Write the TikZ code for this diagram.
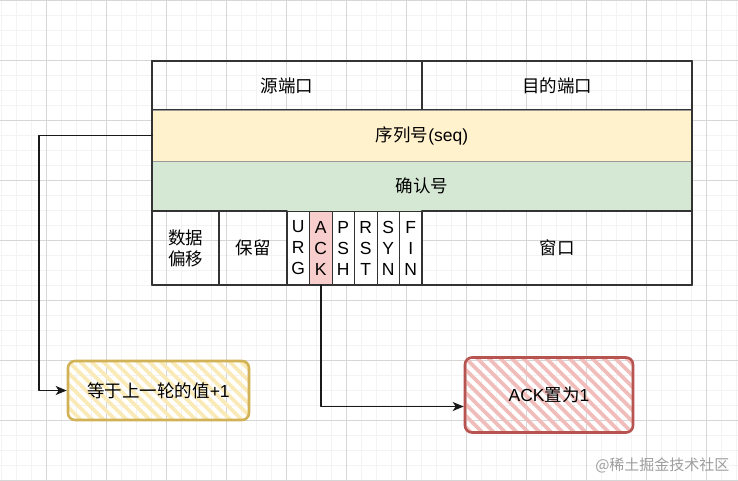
\documentclass[tikz,border=0pt]{standalone}
\usepackage{fontspec}
\setmainfont{Liberation Sans}
\newfontfamily\cjk{Noto Sans CJK SC}
\usetikzlibrary{arrows.meta}

\definecolor{gridminor}{RGB}{243,243,243}
\definecolor{gridmajor}{RGB}{214,214,214}
\definecolor{seqyellow}{HTML}{FFF2CC}
\definecolor{acknogreen}{HTML}{D5E8D4}
\definecolor{ackred}{HTML}{F8CECC}
\definecolor{hatchred}{HTML}{F0BDBB}
\definecolor{hatchyellow}{HTML}{FAEAB8}
\definecolor{rimred}{HTML}{B85450}
\definecolor{rimyellow}{HTML}{D2B256}
\definecolor{cellline}{HTML}{333333}

\tikzset{
  cell/.style={draw=cellline,line width=1.2pt,inner sep=0pt,outer sep=0pt,
    font=\fontsize{17.5}{21}\selectfont,align=center},
  band/.style={cell,draw=black!40,line width=0.8pt},
  flagcell/.style={cell,line width=1pt,minimum width=22.5pt,minimum height=74pt},
  sketchbox/.style={rounded corners=7pt,line width=2.6pt,inner sep=0pt,
    font=\fontsize{17.5}{21}\selectfont,
    path picture={\foreach \k in {-10,...,20}
      \draw[#1,line width=3.6pt] ([xshift=\k*11.5pt]path picture bounding box.north west) -- ++(100pt,-100pt);}},
  link/.style={draw=black!90,line width=1.6pt,-{Stealth[length=11pt,width=9pt,inset=3pt]}}
}

\begin{document}
\begin{tikzpicture}[x=1pt,y=-1pt,line cap=round,line join=round]
        \useasboundingbox (0,0) rectangle (738,480);
        \fill[white] (0,0) rectangle (738,480);
        \foreach \x in {1.7,16.7,...,737} {
            \draw[gridminor,line width=0.7pt] (\x,0) -- (\x,480);
        }
        \foreach \y in {15,30,...,479} {
            \draw[gridminor,line width=0.7pt] (0,\y) -- (738,\y);
        }
        \foreach \x in {46.7,106.7,...,737} {
            \draw[gridmajor,line width=0.7pt] (\x,0) -- (\x,480);
        }
        \foreach \y in {0,60,...,480} {
            \draw[gridmajor,line width=0.7pt] (0,\y) -- (738,\y);
        }

        \node[cell,minimum width=270pt,minimum height=49pt] (srcport) at (287,85.5) {\cjk 源端口};
        \node[cell,minimum width=270pt,minimum height=49pt] (dstport) at (557,85.5) {\cjk 目的端口};
        \node[band,fill=seqyellow,minimum width=540pt,minimum height=51pt] (seqno) at (422,135.5) {{\cjk 序列号}(seq)};
        \node[band,fill=acknogreen,minimum width=540pt,minimum height=50pt] (ackno) at (422,186) {\cjk 确认号};

        \node[cell,minimum width=67pt,minimum height=74pt] (offset) at (185.5,248) {{\cjk 数据}\\{\cjk 偏移}};
        \node[cell,minimum width=68pt,minimum height=74pt] (reserved) at (253,248) {\cjk 保留};
        \foreach \name/\lab/\tint [count=\i from 0] in {urg/{U\\R\\G}/white,ackflag/{A\\C\\K}/ackred,
            psh/{P\\S\\H}/white,rst/{R\\S\\T}/white,syn/{S\\Y\\N}/white,fin/{F\\I\\N}/white} {
            \node[flagcell,fill=\tint] (\name) at ({298.25+22.5*\i},248) {\lab};
        }
        \node[cell,minimum width=270pt,minimum height=74pt] (window) at (557,248) {\cjk 窗口};
        \draw[cellline,line width=1.6pt] (srcport.north west) rectangle (window.south east);

        \node[sketchbox=hatchyellow,draw=rimyellow,minimum width=181pt,minimum height=59pt] (plusone)
            at (158.5,390.5) {{\cjk 等于上一轮的值}+1};
        \node[sketchbox=hatchred,draw=rimred,minimum width=168pt,minimum height=75pt] (ackset)
            at (549,395) {ACK{\cjk 置为}1};

        \draw[link] (seqno.west) -- ++(-113,0) |- (plusone.west);
        \draw[link] (ackflag.south) |- ([yshift=-11.5pt]ackset.west);

        \node[font=\cjk\fontsize{15}{15}\selectfont,text=black!38,anchor=east] (mark) at (733,465) {@稀土掘金技术社区};
    \end{tikzpicture}
\end{document}
